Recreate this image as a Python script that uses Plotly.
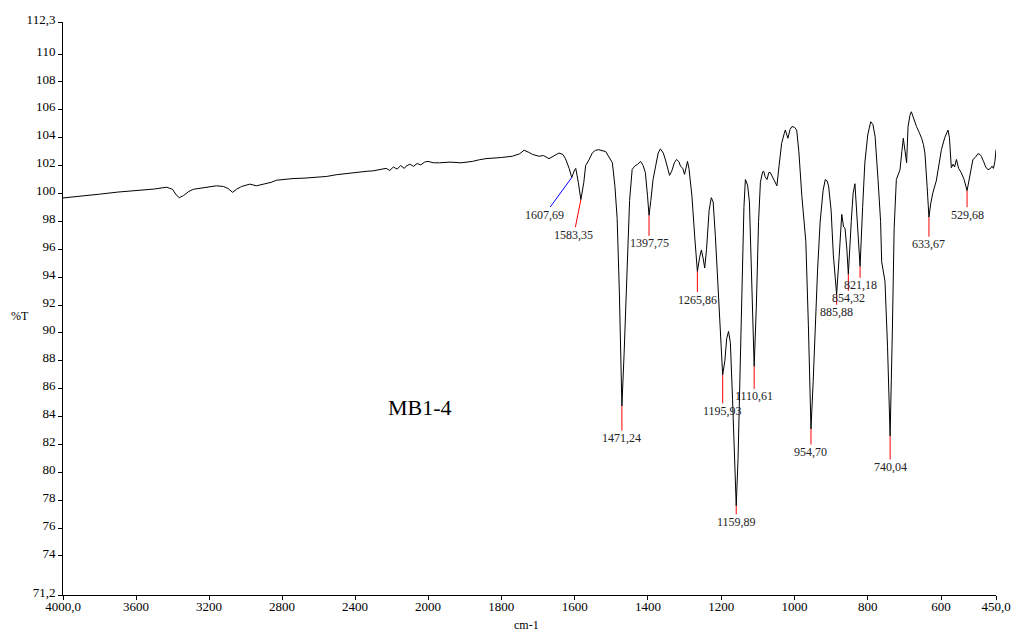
import plotly.graph_objects as go

# ---------------- data ----------------
wavenumber = [
    4000, 3900, 3800, 3700, 3600, 3500, 3432, 3400, 3380, 3363, 3340, 3310, 3286, 3220, 3160,
    3120, 3095, 3071, 3050, 3022, 2990, 2977, 2940, 2900, 2860, 2831, 2780, 2740, 2680, 2620,
    2557, 2500, 2440, 2376, 2330, 2303, 2260, 2230, 2210, 2190, 2170, 2150, 2130, 2120, 2100,
    2080, 2060, 2040, 2020, 2000,
    1985, 1969, 1940, 1910, 1879, 1860, 1842, 1800, 1770, 1750, 1738, 1725, 1715, 1697, 1685,
    1670, 1655, 1643, 1632, 1625, 1615, 1608, 1600, 1597, 1590, 1583, 1575, 1570, 1561, 1552,
    1543, 1534, 1515, 1497, 1490, 1484, 1478, 1471, 1465, 1457, 1450, 1443, 1436, 1428, 1420,
    1413, 1407, 1401, 1397, 1392, 1386, 1379, 1372, 1366, 1358, 1352, 1346, 1341, 1335, 1328,
    1322, 1316, 1311, 1305, 1300, 1295, 1292, 1288, 1280, 1272, 1265, 1259, 1254, 1249, 1245,
    1240, 1233, 1227, 1222, 1216, 1208, 1200, 1196, 1190, 1185, 1180, 1175, 1169, 1164, 1159,
    1154, 1148, 1142, 1138, 1134, 1128, 1123, 1117, 1110, 1104, 1098, 1093, 1087, 1084, 1080,
    1075, 1070, 1066, 1060, 1053, 1048, 1042, 1035, 1028, 1025, 1018, 1012, 1007, 1000, 994,
    988, 980, 974, 969, 962, 955, 949, 944, 937, 930, 922, 916, 911, 907, 900,
    894, 885, 878, 871, 866, 862, 857, 853, 845, 840, 835, 831, 826, 821, 814,
    808, 800, 792, 786, 780, 772, 765, 762, 753, 746, 739, 733, 728, 722, 717,
    712, 707, 703, 698, 694, 690, 685, 681, 676, 671, 667, 660, 653, 648, 644,
    638, 633, 628, 622, 613, 606, 599, 590, 584, 581, 577, 572, 567, 563, 558,
    552, 545, 537, 529, 521, 513, 506, 499, 494, 490, 484, 478, 472, 465, 461,
    457, 453, 450,
]
transmittance = [
    99.68, 99.80, 99.95, 100.10, 100.20, 100.32, 100.45, 100.30, 99.90, 99.70, 99.85, 100.15, 100.30, 100.45, 100.55,
    100.50, 100.35, 100.08, 100.30, 100.50, 100.65, 100.67, 100.55, 100.65, 100.80, 100.95, 101.02, 101.07, 101.10, 101.15,
    101.22, 101.35, 101.45, 101.55, 101.60, 101.62, 101.70, 101.80, 101.65, 101.90, 101.75, 102.00, 101.80, 101.96, 102.10,
    101.95, 102.15, 102.05, 102.25, 102.30,
    102.20, 102.20, 102.25, 102.20, 102.30, 102.42, 102.50, 102.58, 102.67, 102.85, 103.10, 102.95, 102.80, 102.67, 102.72,
    102.50, 102.70, 102.90, 102.80, 102.50, 101.80, 101.14, 101.70, 101.80, 100.80, 99.56, 100.80, 102.00, 102.40, 102.90,
    103.10, 103.14, 103.00, 102.20, 100.50, 98.20, 93.00, 84.75, 88.50, 94.66, 99.50, 101.73, 101.96, 102.10, 102.30,
    102.00, 101.50, 99.80, 98.43, 99.50, 101.00, 101.96, 102.90, 103.20, 102.90, 102.40, 101.80, 101.30, 101.60, 102.20,
    102.44, 102.30, 101.96, 101.80, 101.37, 102.10, 102.30, 101.80, 99.84, 96.80, 94.40, 95.40, 95.95, 95.30, 94.66,
    96.00, 98.80, 99.70, 99.40, 97.00, 93.00, 88.50, 86.99, 88.00, 89.60, 90.10, 89.30, 85.20, 80.50, 77.60,
    81.00, 87.60, 94.50, 99.00, 101.00, 100.60, 99.40, 94.50, 87.60, 92.00, 98.00, 100.80, 101.55, 101.60, 101.20,
    101.00, 101.50, 101.50, 101.20, 100.90, 100.55, 102.00, 103.60, 104.30, 104.55, 103.96, 104.60, 104.80, 104.75, 104.55,
    103.00, 99.84, 97.80, 96.54, 90.50, 83.10, 86.50, 90.40, 94.50, 97.95, 100.20, 101.00, 100.90, 100.55, 98.80,
    95.60, 92.77, 95.50, 98.50, 97.60, 97.50, 96.00, 94.20, 98.00, 100.00, 100.70, 99.00, 96.50, 94.77, 99.00,
    102.20, 104.20, 105.15, 104.95, 104.10, 101.00, 98.00, 95.10, 93.70, 89.00, 82.60, 90.00, 97.50, 101.00, 101.40,
    101.70, 103.00, 103.96, 103.00, 102.20, 104.80, 105.60, 105.86, 105.50, 105.00, 104.80, 104.40, 103.96, 103.50, 102.90,
    100.50, 98.30, 99.30, 100.08, 100.90, 102.20, 103.14, 104.00, 104.40, 104.55, 104.00, 101.85, 102.10, 101.90, 102.44,
    101.80, 101.50, 101.00, 100.20, 101.30, 102.44, 102.60, 102.86, 102.80, 102.67, 102.30, 101.90, 101.70, 101.80, 101.96,
    101.80, 102.30, 103.14,
]

# peak picks: label text, position of the minimum
peak_labels = ["1607,69", "1583,35", "1471,24", "1397,75", "1265,86", "1195,93", "1159,89",
               "1110,61", "954,70", "885,88", "854,32", "821,18", "740,04", "633,67", "529,68"]
peak_wn = [1608, 1583, 1471, 1397, 1265, 1196, 1159, 1110, 955, 885, 853, 821, 739, 633, 529]
peak_t = [101.14, 99.56, 84.75, 98.43, 94.40, 86.99, 77.60, 87.60, 83.10, 92.77, 94.20, 94.77, 82.60, 98.30, 100.20]

# label offsets (pixels) and line colours
peak_ax = [-27, -7, 0, 0, 0, 0, 0, 0, 0, 0, 0, 0, 0, 0, 0]
peak_ay = [37, 35, 32, 28, 28, 36, 16, 30, 23, 18, 24, 19, 31, 27, 24]
peak_line_color = ["#0000ff"] + ["#ff0000"] * 14

y_tickvals = [71.2, 74, 76, 78, 80, 82, 84, 86, 88, 90, 92, 94, 96, 98, 100, 102, 104, 106, 108, 110, 112.3]
y_ticktext = ["71,2"] + [str(v) for v in y_tickvals[1:-1]] + ["112,3"]
x1_tickvals = [4000, 3600, 3200, 2800, 2400, 2000]
x1_ticktext = ["4000,0", "3600", "3200", "2800", "2400", "2000"]
x2_tickvals = [1800, 1600, 1400, 1200, 1000, 800, 600, 450]
x2_ticktext = ["1800", "1600", "1400", "1200", "1000", "800", "600", "450,0"]

SPLIT = 2000
FONT = "Liberation Serif, Times New Roman, serif"

# split the spectrum for the two-scale wavenumber axis
hi_x = [w for w in wavenumber if w >= SPLIT]
hi_y = [t for w, t in zip(wavenumber, transmittance) if w >= SPLIT]
lo_x = [w for w in wavenumber if w <= SPLIT]
lo_y = [t for w, t in zip(wavenumber, transmittance) if w <= SPLIT]

fig = go.Figure()
fig.add_trace(go.Scatter(x=hi_x, y=hi_y, mode="lines", xaxis="x", yaxis="y",
                         line=dict(color="black", width=1), showlegend=False, hoverinfo="skip"))
fig.add_trace(go.Scatter(x=lo_x, y=lo_y, mode="lines", xaxis="x2", yaxis="y",
                         line=dict(color="black", width=1), showlegend=False, hoverinfo="skip"))

annotations = []
for lab, w, t, ax, ay, c in zip(peak_labels, peak_wn, peak_t, peak_ax, peak_ay, peak_line_color):
    annotations.append(dict(
        x=w, y=t, xref="x2", yref="y", text=lab, showarrow=True,
        arrowhead=0, arrowwidth=1, arrowcolor=c, ax=ax, ay=ay, standoff=0,
        borderpad=0, font=dict(family=FONT, size=12, color="#222222"),
    ))

annotations.append(dict(x=2042, y=84.64, xref="x", yref="y", text="MB1-4", showarrow=False,
                        xanchor="center", yanchor="middle",
                        font=dict(family=FONT, size=22, color="black")))
annotations.append(dict(x=-0.046, y=0.487, xref="paper", yref="paper", text="%T", showarrow=False,
                        xanchor="center", yanchor="middle",
                        font=dict(family=FONT, size=12, color="black")))
annotations.append(dict(x=0.497, y=-0.053, xref="paper", yref="paper", text="cm-1", showarrow=False,
                        xanchor="center", yanchor="middle",
                        font=dict(family=FONT, size=12, color="black")))

split_frac = 0.3913
axis_common = dict(showgrid=False, zeroline=False, showline=True, linecolor="black", linewidth=1,
                   ticks="outside", ticklen=4, tickcolor="black", tickwidth=1,
                   tickfont=dict(family=FONT, size=13, color="black"), tickmode="array")

fig.update_layout(
    width=1023, height=639,
    margin=dict(l=63, r=25, t=14, b=44),
    paper_bgcolor="white", plot_bgcolor="white",
    showlegend=False,
    xaxis=dict(domain=[0, split_frac], range=[4000, SPLIT], anchor="y",
               tickvals=x1_tickvals, ticktext=x1_ticktext, ticklabelstandoff=-5, **axis_common),
    xaxis2=dict(domain=[split_frac, 1], range=[SPLIT, 450], anchor="y",
                tickvals=x2_tickvals, ticktext=x2_ticktext, ticklabelstandoff=-5, **axis_common),
    yaxis=dict(range=[71.2, 112.3], anchor="x",
               tickvals=y_tickvals, ticktext=y_ticktext, ticklabelshift=-3, **axis_common),
    annotations=annotations,
)

fig.write_html("out.html")
